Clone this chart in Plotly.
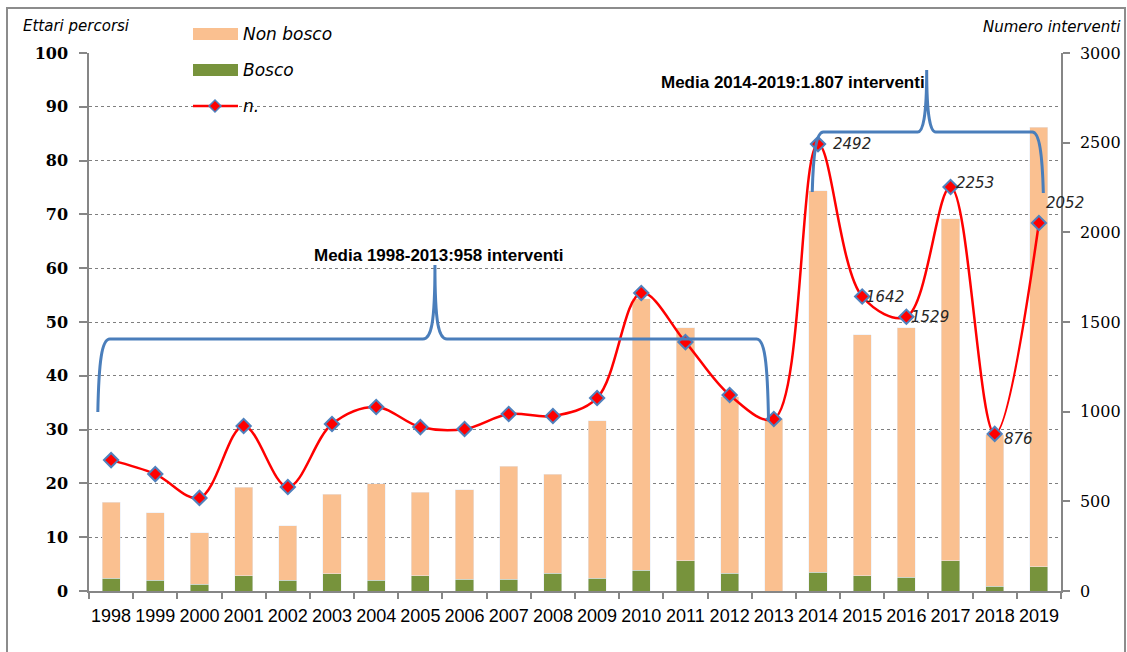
import plotly.graph_objects as go

# ---------------- data ----------------
years = ["1998", "1999", "2000", "2001", "2002", "2003", "2004", "2005", "2006", "2007", "2008",
         "2009", "2010", "2011", "2012", "2013", "2014", "2015", "2016", "2017", "2018", "2019"]
bosco = [2.4, 2.0, 1.3, 2.8, 2.0, 3.2, 2.0, 2.8, 2.2, 2.2, 3.3,
         2.4, 3.9, 5.6, 3.3, 0.0, 3.5, 2.8, 2.6, 5.6, 0.9, 4.5]
non_bosco = [14.1, 12.5, 9.5, 16.5, 10.1, 14.8, 17.9, 15.6, 16.6, 21.0, 18.4,
             29.2, 50.4, 43.3, 32.8, 32.0, 70.9, 44.8, 46.3, 63.6, 28.1, 81.7]
n_interventi = [730, 652, 519, 920, 580, 931, 1026, 914, 903, 987, 976,
                1076, 1662, 1388, 1093, 959, 2492, 1642, 1529, 2253, 876, 2052]
labelled_years = ["2014", "2015", "2016", "2017", "2018", "2019"]
left_ticks = [0, 10, 20, 30, 40, 50, 60, 70, 80, 90, 100]
right_ticks = [0, 500, 1000, 1500, 2000, 2500, 3000]
media_text_1 = "Media 1998-2013:958 interventi"
media_text_2 = "Media 2014-2019:1.807 interventi"

# ---------------- geometry ----------------
W, H = 1127, 652
ML, MR, MT, MB = 89, 66, 53, 61
PW, PH = W - ML - MR, H - MT - MB
NCAT = len(years)
Y2MAX = 3000.0


def X(ci):  # category index -> pixel
    return ML + (ci + 0.5) * PW / NCAT


def Y(v):  # y2 value -> pixel
    return MT + PH - v * PH / Y2MAX


def px(x):
    return (x - ML) / PW


def py(y):
    return (MT + PH - y) / PH


def path_paper(cmds):
    out = []
    for c in cmds:
        if isinstance(c, str):
            out.append(c)
        else:
            out.append(f"{px(c[0]):.5f},{py(c[1]):.5f}")
    return " ".join(out)


def brace(xs, ysb, xe, yeb, yl, xp, yp, r=12, rp=12):
    xs, xe, xp = X(xs), X(xe), X(xp)
    ysb, yeb, yl, yp = Y(ysb), Y(yeb), Y(yl), Y(yp)
    cmds = ["M", (xs, ysb),
            "C", (xs + 1, yl + 22), (xs + 4, yl), (xs + r, yl),
            "L", (xp - rp, yl),
            "C", (xp - 4, yl), (xp, yl - 14), (xp, yp),
            "C", (xp, yl - 14), (xp + 4, yl), (xp + rp, yl),
            "L", (xe - r, yl),
            "C", (xe - 4, yl), (xe - 1, yl + 22), (xe, yeb)]
    return path_paper(cmds)


SANS = "Liberation Sans, Arial, sans-serif"
DSANS = "DejaVu Sans, sans-serif"
SERIF = "DejaVu Serif, serif"
GREY = "#868686"
BLUE = "#4A7EBB"

fig = go.Figure()
fig.add_trace(go.Bar(x=years, y=bosco, name="Bosco", marker_color="#77933C",
                     width=0.41, yaxis="y"))
fig.add_trace(go.Bar(x=years, y=non_bosco, name="Non bosco", marker_color="#FAC090",
                     width=0.41, yaxis="y"))
fig.add_trace(go.Scatter(x=years, y=n_interventi, name="n.", yaxis="y2",
                         mode="lines+markers",
                         line=dict(color="#FF0000", width=2.5, shape="spline", smoothing=1.0),
                         marker=dict(symbol="diamond", size=11, color="#FF0000",
                                     line=dict(color="#4F81BD", width=2))))

shapes = []
# outer frame
shapes.append(dict(type="rect", xref="paper", yref="paper",
                   x0=px(7), x1=px(1125), y0=py(8), y1=py(660),
                   line=dict(color="#8C8C8C", width=2), layer="below"))
# braces
shapes.append(dict(type="path", xref="paper", yref="paper",
                   path=brace(-0.30, 998, 14.88, 953, 1405, 7.33, 1818),
                   line=dict(color=BLUE, width=3)))
shapes.append(dict(type="path", xref="paper", yref="paper",
                   path=brace(15.87, 2225, 21.1, 2219, 2559, 18.46, 2905, r=11, rp=9),
                   line=dict(color=BLUE, width=3)))

# manual legend
leg_x0, leg_x1 = 193, 238
shapes.append(dict(type="rect", xref="paper", yref="paper",
                   x0=px(leg_x0), x1=px(leg_x1), y0=py(28), y1=py(40),
                   fillcolor="#FAC090", line=dict(width=0)))
shapes.append(dict(type="rect", xref="paper", yref="paper",
                   x0=px(leg_x0), x1=px(leg_x1), y0=py(64), y1=py(76),
                   fillcolor="#77933C", line=dict(width=0)))
shapes.append(dict(type="line", xref="paper", yref="paper",
                   x0=px(leg_x0), x1=px(leg_x1), y0=py(106), y1=py(106),
                   line=dict(color="#FF0000", width=2.5)))
dcx, dcy, dr = 215, 106, 6
shapes.append(dict(type="path", xref="paper", yref="paper",
                   path=path_paper(["M", (dcx, dcy - dr), "L", (dcx + dr, dcy), "L", (dcx, dcy + dr),
                                    "L", (dcx - dr, dcy), "Z"]),
                   fillcolor="#FF0000", line=dict(color="#4F81BD", width=1.5)))

annotations = []
for txt, yy in [("Non bosco", 34), ("Bosco", 70), ("n.", 106)]:
    annotations.append(dict(xref="paper", yref="paper", x=px(241), y=py(yy),
                            text=f"<i>{txt}</i>", showarrow=False, xanchor="left", yanchor="middle",
                            font=dict(family=DSANS, size=17, color="#000000")))
annotations.append(dict(xref="paper", yref="paper", x=px(21), y=py(26),
                        text="<i>Ettari percorsi</i>", showarrow=False, xanchor="left", yanchor="middle",
                        font=dict(family=DSANS, size=15, color="#000000")))
annotations.append(dict(xref="paper", yref="paper", x=px(1123), y=py(27),
                        text="<i>Numero interventi</i>", showarrow=False, xanchor="right", yanchor="middle",
                        font=dict(family=DSANS, size=15, color="#000000")))
annotations.append(dict(xref="paper", yref="paper", x=px(438), y=py(255),
                        text=f"<b>{media_text_1}</b>", showarrow=False, xanchor="center", yanchor="middle",
                        font=dict(family=SANS, size=17, color="#000000")))
annotations.append(dict(xref="paper", yref="paper", x=px(793), y=py(82),
                        text=f"<b>{media_text_2}</b>", showarrow=False, xanchor="center", yanchor="middle",
                        font=dict(family=SANS, size=17, color="#000000")))

label_shift = {"2014": (13, 0), "2015": (2, 0), "2016": (3, 0), "2017": (3, 4),
               "2018": (7, -5), "2019": (5, 20)}
for yr in labelled_years:
    i = years.index(yr)
    dx, dy = label_shift[yr]
    annotations.append(dict(xref="x", yref="y2", x=i, y=n_interventi[i],
                            text=f"<i>{n_interventi[i]}</i>", showarrow=False,
                            xanchor="left", yanchor="middle", xshift=dx, yshift=dy,
                            font=dict(family=DSANS, size=15, color="#262626")))

fig.update_layout(
    width=W, height=H,
    margin=dict(l=ML, r=MR, t=MT, b=MB, pad=0, autoexpand=False),
    paper_bgcolor="white", plot_bgcolor="white",
    barmode="stack",
    showlegend=False,
    shapes=shapes, annotations=annotations,
    xaxis=dict(type="category", categoryorder="array", categoryarray=years,
               range=[-0.5, NCAT - 0.5], automargin=False, tickangle=0,
               showline=True, linecolor=GREY, linewidth=1.5,
               ticks="outside", ticklen=6, tickcolor=GREY, tickwidth=1.5,
               tickson="boundaries", showgrid=False, ticklabelstandoff=8,
               tickfont=dict(family=SANS, size=18, color="#000000")),
    yaxis=dict(range=[0, 100], tickvals=left_ticks, ticktext=[str(t) for t in left_ticks],
               automargin=False,
               showline=True, linecolor=GREY, linewidth=1.5,
               ticks="outside", ticklen=8, tickcolor=GREY, tickwidth=1.5,
               ticklabelstandoff=8,
               showgrid=True, gridcolor="#7F7F7F", griddash="dot", gridwidth=1,
               zeroline=False,
               tickfont=dict(family=SERIF, size=16, color="#000000", weight="bold")),
    yaxis2=dict(range=[0, Y2MAX], tickvals=right_ticks, ticktext=[str(t) for t in right_ticks],
                overlaying="y", side="right", automargin=False,
                showline=True, linecolor=GREY, linewidth=1.5,
                ticks="outside", ticklen=7, tickcolor=GREY, tickwidth=1.5,
                ticklabelstandoff=7,
                showgrid=False, zeroline=False,
                tickfont=dict(family=SERIF, size=16, color="#000000")),
)

fig.write_html("out.html", config={"displayModeBar": False},
               post_script="document.body.style.margin='0';document.body.style.overflow='hidden';")
